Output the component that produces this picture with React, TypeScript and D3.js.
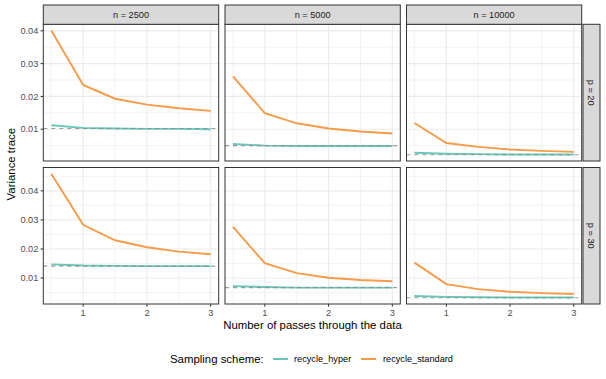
import React from "react";
import * as d3 from "d3";

const passes = [0.5, 1, 1.5, 2, 2.5, 3];
const nValues = [2500, 5000, 10000];
const pValues = [20, 30];
const schemes = ["recycle_hyper", "recycle_standard"];

const standardP20 = [
  [0.0401, 0.0235, 0.0193, 0.0175, 0.0164, 0.0156],
  [0.0261, 0.0149, 0.0118, 0.0102, 0.0093, 0.0087],
  [0.0119, 0.0058, 0.0046, 0.0038, 0.0034, 0.0031],
];
const hyperP20 = [
  [0.0112, 0.0104, 0.0102, 0.0101, 0.0101, 0.01],
  [0.0055, 0.005, 0.0049, 0.0049, 0.0049, 0.0049],
  [0.0028, 0.0025, 0.0024, 0.0023, 0.0023, 0.0023],
];
const truthP20 = [0.0102, 0.005, 0.0022];

const standardP30 = [
  [0.0459, 0.0283, 0.023, 0.0206, 0.0191, 0.0182],
  [0.0276, 0.0151, 0.0117, 0.0101, 0.0093, 0.0089],
  [0.0153, 0.0079, 0.0062, 0.0053, 0.0048, 0.0045],
];
const hyperP30 = [
  [0.0147, 0.0143, 0.0142, 0.0141, 0.0141, 0.0141],
  [0.0072, 0.0069, 0.0067, 0.0067, 0.0067, 0.0067],
  [0.0038, 0.0035, 0.0034, 0.0033, 0.0033, 0.0033],
];
const truthP30 = [0.0141, 0.0067, 0.0032];

const xTicks = [1, 2, 3];
const xMinor = [0.5, 1.5, 2.5];
const yTicks = [0.01, 0.02, 0.03, 0.04];
const yMinor = [0.005, 0.015, 0.025, 0.035, 0.045];

const COLORS: Record<string, string> = {
  recycle_hyper: "#5EC4B6",
  recycle_standard: "#F7963F",
};

const FONT = "'Liberation Sans', Arial, Helvetica, sans-serif";
const SMALL = 9.2;
const BIG = 11.4;

const cols = [
  [43.3, 218.7],
  [225, 400.3],
  [406.5, 581.7],
];
const rows = [
  [24.3, 161],
  [167.5, 304],
];

export default function App() {
  const rowData = [
    { std: standardP20, hyp: hyperP20, truth: truthP20 },
    { std: standardP30, hyp: hyperP30, truth: truthP30 },
  ];

  const xDomRaw = d3.extent(passes) as [number, number];
  const xPad = (xDomRaw[1] - xDomRaw[0]) * 0.05;
  const xDom: [number, number] = [xDomRaw[0] - xPad, xDomRaw[1] + xPad];

  const yScales = rowData.map((rd, ri) => {
    const all = [...rd.std.flat(), ...rd.hyp.flat(), ...rd.truth];
    const [mn, mx] = d3.extent(all) as [number, number];
    const pad = (mx - mn) * 0.05;
    return d3.scaleLinear().domain([mn - pad, mx + pad]).range([rows[ri][1], rows[ri][0]]);
  });

  const panels: React.ReactNode[] = [];
  rowData.forEach((rd, ri) => {
    const y = yScales[ri];
    const [y0, y1] = rows[ri];
    const [dmin, dmax] = y.domain();
    cols.forEach((c, ci) => {
      const x = d3.scaleLinear().domain(xDom).range([c[0], c[1]]);
      const line = d3
        .line<number>()
        .x((_, i) => x(passes[i]))
        .y((v) => y(v));
      const clipId = `clip-${ri}-${ci}`;
      panels.push(
        <g key={`p-${ri}-${ci}`}>
          <defs>
            <clipPath id={clipId}>
              <rect x={c[0]} y={y0} width={c[1] - c[0]} height={y1 - y0} />
            </clipPath>
          </defs>
          <rect x={c[0]} y={y0} width={c[1] - c[0]} height={y1 - y0} fill="#fff" />
          {yMinor
            .filter((t) => t > dmin && t < dmax)
            .map((t) => (
              <line key={`ym${t}`} x1={c[0]} x2={c[1]} y1={y(t)} y2={y(t)} stroke="#EBEBEB" strokeWidth={0.6} />
            ))}
          {xMinor.map((t) => (
            <line key={`xm${t}`} y1={y0} y2={y1} x1={x(t)} x2={x(t)} stroke="#EBEBEB" strokeWidth={0.6} />
          ))}
          {yTicks.map((t) => (
            <line key={`yM${t}`} x1={c[0]} x2={c[1]} y1={y(t)} y2={y(t)} stroke="#EBEBEB" strokeWidth={1.1} />
          ))}
          {xTicks.map((t) => (
            <line key={`xM${t}`} y1={y0} y2={y1} x1={x(t)} x2={x(t)} stroke="#EBEBEB" strokeWidth={1.1} />
          ))}
          <g clipPath={`url(#${clipId})`}>
            <path d={line(rd.hyp[ci]) || ""} fill="none" stroke={COLORS.recycle_hyper} strokeWidth={1.9} strokeOpacity={0.95} />
            <path d={line(rd.std[ci]) || ""} fill="none" stroke={COLORS.recycle_standard} strokeWidth={1.9} strokeOpacity={0.95} />
            <line
              x1={c[0]}
              x2={c[1]}
              y1={y(rd.truth[ci])}
              y2={y(rd.truth[ci])}
              stroke="#8C8C8C"
              strokeOpacity={0.85}
              strokeWidth={1.1}
              strokeDasharray="4,4"
            />
          </g>
          <rect x={c[0]} y={y0} width={c[1] - c[0]} height={y1 - y0} fill="none" stroke="#333" strokeWidth={1} />
          {ci === 0 &&
            yTicks.map((t) => (
              <g key={`yt${t}`}>
                <line x1={c[0] - 2.75} x2={c[0]} y1={y(t)} y2={y(t)} stroke="#333" strokeWidth={1} />
                <text x={c[0] - 5} y={y(t)} dy="0.34em" textAnchor="end" fontSize={SMALL} fill="#4D4D4D" fontFamily={FONT}>
                  {d3.format(".2f")(t)}
                </text>
              </g>
            ))}
          {ri === 1 &&
            xTicks.map((t) => (
              <g key={`xt${t}`}>
                <line x1={x(t)} x2={x(t)} y1={y1} y2={y1 + 2.75} stroke="#333" strokeWidth={1} />
                <text x={x(t)} y={y1 + 12.4} textAnchor="middle" fontSize={SMALL} fill="#4D4D4D" fontFamily={FONT}>
                  {t}
                </text>
              </g>
            ))}
        </g>
      );
    });
  });

  const strips = cols.map((c, ci) => (
    <g key={`s${ci}`}>
      <rect x={c[0]} y={5} width={c[1] - c[0]} height={rows[0][0] - 5} fill="#D9D9D9" stroke="#333" strokeWidth={1} />
      <text x={(c[0] + c[1]) / 2} y={(5 + rows[0][0]) / 2} dy="0.35em" textAnchor="middle" fontSize={SMALL} fill="#1A1A1A" fontFamily={FONT}>
        {`n = ${nValues[ci]}`}
      </text>
    </g>
  ));

  const rStrips = rows.map((r, ri) => {
    const sx0 = 583;
    const sx1 = 600;
    const cy = (r[0] + r[1]) / 2;
    const cx = (sx0 + sx1) / 2;
    return (
      <g key={`rs${ri}`}>
        <rect x={sx0} y={r[0]} width={sx1 - sx0} height={r[1] - r[0]} fill="#D9D9D9" stroke="#333" strokeWidth={1} />
        <text
          transform={`translate(${cx},${cy}) rotate(90)`}
          dy="0.35em"
          textAnchor="middle"
          fontSize={SMALL}
          fill="#1A1A1A"
          fontFamily={FONT}
        >
          {`p = ${pValues[ri]}`}
        </text>
      </g>
    );
  });

  const legendY = 359;
  return (
    <svg
      width={606}
      height={379}
      style={{ position: "absolute", left: 0, top: 0, background: "#fff" }}
    >
      <rect width={606} height={379} fill="#fff" />
      {panels}
      {strips}
      {rStrips}
      <text
        x={(cols[0][0] + cols[2][1]) / 2}
        y={329}
        textAnchor="middle"
        fontSize={BIG}
        fill="#000"
        fontFamily={FONT}
      >
        Number of passes through the data
      </text>
      <text
        transform={`translate(14.5,${(rows[0][0] + rows[1][1]) / 2}) rotate(-90)`}
        textAnchor="middle"
        fontSize={BIG}
        fill="#000"
        fontFamily={FONT}
      >
        Variance trace
      </text>
      <g>
        <text x={170} y={legendY} dy="0.35em" fontSize={BIG} fill="#000" fontFamily={FONT}>
          Sampling scheme:
        </text>
        <line x1={273} x2={288} y1={legendY} y2={legendY} stroke={COLORS[schemes[0]]} strokeWidth={1.9} />
        <text x={294} y={legendY} dy="0.35em" fontSize={SMALL} fill="#000" fontFamily={FONT}>
          {schemes[0]}
        </text>
        <line x1={361} x2={376} y1={legendY} y2={legendY} stroke={COLORS[schemes[1]]} strokeWidth={1.9} />
        <text x={383} y={legendY} dy="0.35em" fontSize={SMALL} fill="#000" fontFamily={FONT}>
          {schemes[1]}
        </text>
      </g>
    </svg>
  );
}
